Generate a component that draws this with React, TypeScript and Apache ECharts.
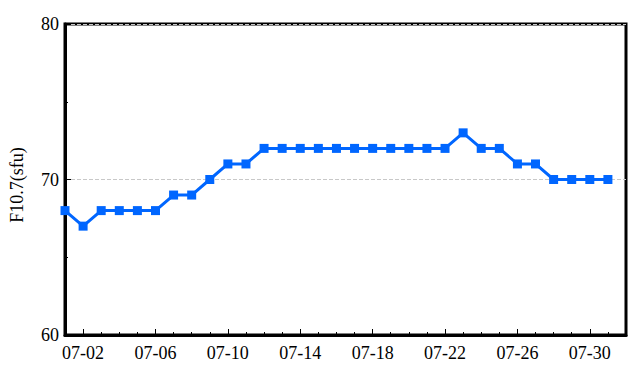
import React, { useEffect, useRef } from "react";
import * as echarts from "echarts";

const categories: string[] = [
  "07-01","07-02","07-03","07-04","07-05","07-06","07-07","07-08","07-09","07-10",
  "07-11","07-12","07-13","07-14","07-15","07-16","07-17","07-18","07-19","07-20",
  "07-21","07-22","07-23","07-24","07-25","07-26","07-27","07-28","07-29","07-30",
  "07-31","08-01",
];
const f107Values: number[] = [
  68, 67, 68, 68, 68, 68, 69, 69, 70, 71,
  71, 72, 72, 72, 72, 72, 72, 72, 72, 72,
  72, 72, 73, 72, 72, 71, 71, 70, 70, 70,
  70,
];
const yTicks = { min: 60, max: 80, interval: 10 };
const yName = "F10.7(sfu)";

const FONT = "Liberation Serif";

export default function App() {
  const ref = useRef<HTMLDivElement>(null);
  useEffect(() => {
    if (!ref.current) return;
    const chart = echarts.init(ref.current, null, { renderer: "svg" });
    chart.setOption({
      animation: false,
      grid: {
        left: 65,
        right: 15,
        top: 24,
        bottom: 46,
        show: true,
        borderColor: "#000",
        borderWidth: 3,
        backgroundColor: "transparent",
      },
      graphic: [
        {
          type: "text",
          x: 17,
          y: 185,
          rotation: Math.PI / 2,
          style: {
            text: yName,
            fill: "#000",
            fontSize: 18,
            fontFamily: FONT,
            align: "center",
            verticalAlign: "middle",
          },
        },
      ],
      xAxis: [
        {
          type: "category",
          data: categories,
          boundaryGap: false,
          axisLine: { show: true, lineStyle: { color: "#000", width: 3 } },
          axisTick: {
            show: true,
            inside: true,
            length: 6,
            interval: (i: number) => i % 4 === 1,
            lineStyle: { color: "#000", width: 1 },
          },
          axisLabel: {
            interval: (i: number) => i % 4 === 1,
            color: "#000",
            fontFamily: FONT,
            fontSize: 18,
            margin: 9,
          },
          splitLine: { show: false },
        },
        {
          type: "category",
          data: categories,
          boundaryGap: false,
          position: "bottom",
          axisLine: { show: false },
          axisTick: {
            show: true,
            inside: true,
            length: 3,
            interval: 0,
            lineStyle: { color: "#000", width: 1 },
          },
          axisLabel: { show: false },
          splitLine: { show: false },
        },
      ],
      yAxis: {
        type: "value",
        min: yTicks.min,
        max: yTicks.max,
        interval: yTicks.interval,
        axisLine: { show: true, lineStyle: { color: "#000", width: 3 } },
        axisTick: { show: true, inside: true, length: 6, lineStyle: { color: "#000", width: 1 } },
        minorTick: { show: true, splitNumber: 2, length: 3, lineStyle: { color: "#000", width: 1 } },
        axisLabel: { color: "#000", fontFamily: FONT, fontSize: 18, margin: 6 },
        splitLine: { show: true, lineStyle: { color: "#c8c8c8", type: "dashed", width: 1 } },
      },
      series: [
        {
          type: "line",
          data: f107Values,
          xAxisIndex: 0,
          symbol: "rect",
          symbolSize: 9,
          lineStyle: { color: "#0066ff", width: 3 },
          itemStyle: { color: "#0066ff" },
        },
      ],
    });
    return () => chart.dispose();
  }, []);
  return <div ref={ref} style={{ width: 641, height: 381, position: "absolute", left: 0, top: 0 }} />;
}
